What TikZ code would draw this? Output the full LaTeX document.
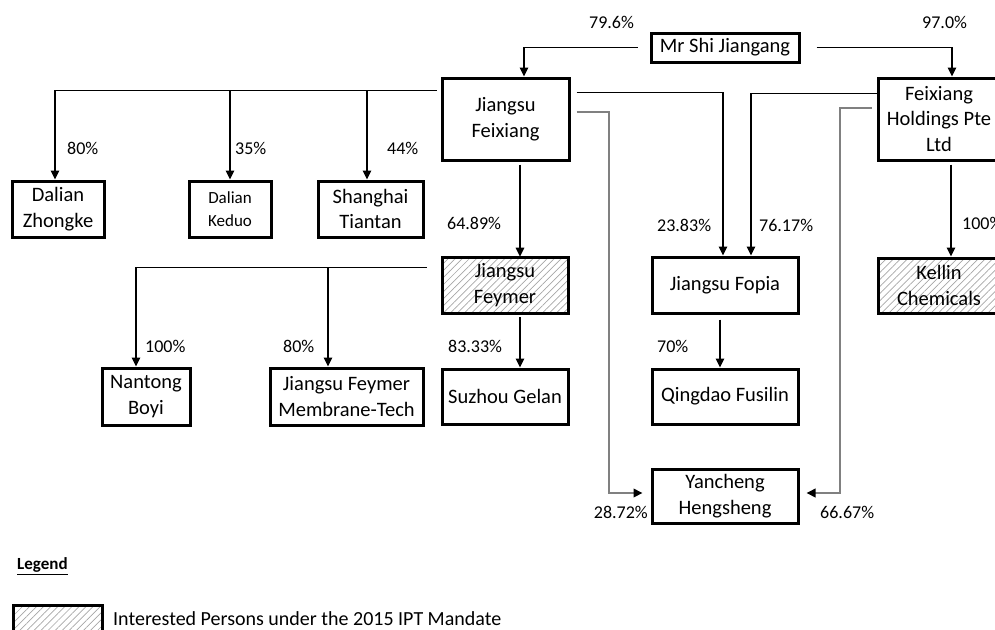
\documentclass[tikz,border=0pt]{standalone}
\usepackage{fontspec}
\setmainfont{Carlito}
\usetikzlibrary{arrows.meta,patterns.meta}
\definecolor{greyline}{HTML}{808080}
\definecolor{hatchgrey}{HTML}{A6A6A6}
\begin{document}
\begin{tikzpicture}[x=1pt,y=-1pt,
  box/.style={draw=black,line width=3pt,fill=white,inner sep=0pt,align=center,
    font=\fontsize{20.5}{25.5}\selectfont},
  hatched/.style={pattern={Lines[angle=45,distance=5pt,line width=0.7pt]},pattern color=hatchgrey},
  conn/.style={draw=black,line width=1.4pt,-{Triangle[length=9pt,width=8.5pt]}},
  greyconn/.style={draw=greyline,line width=2pt,-{Triangle[length=9pt,width=8.5pt,fill=black,color=black]}},
  pct/.style={inner sep=0pt,font=\fontsize{18}{21}\selectfont},
  lbl/.style={inner sep=0pt,anchor=west}
]
\useasboundingbox (0,0) rectangle (995,629);

% boxes
\node[box,minimum width=148pt,minimum height=29pt] (shi) at (725,47.5) {Mr Shi Jiangang};
\node[box,minimum width=127pt,minimum height=82pt] (jf) at (505.5,119) {Jiangsu\\Feixiang};
\node[box,minimum width=122pt,minimum height=82pt] (fh) at (939,119) {Feixiang\\Holdings Pte\\Ltd};
\node[box,minimum width=92pt,minimum height=56pt] (dz) at (58,209) {Dalian\\Zhongke};
\node[box,minimum width=82pt,minimum height=56pt,font=\fontsize{17}{23}\selectfont] (dk) at (230,209) {Dalian\\Keduo};
\node[box,minimum width=105pt,minimum height=56pt] (st) at (370.5,209) {Shanghai\\Tiantan};
\node[box,hatched,minimum width=126pt,minimum height=56pt] (fey) at (505,285) {Jiangsu\\Feymer};
\node[box,minimum width=146pt,minimum height=56pt] (fop) at (725,285) {Jiangsu Fopia};
\node[box,hatched,minimum width=122pt,minimum height=55pt] (kel) at (939,285.5) {Kellin\\Chemicals};
\node[box,minimum width=88pt,minimum height=57pt] (nb) at (146,396.5) {Nantong\\Boyi};
\node[box,minimum width=153pt,minimum height=57pt] (mt) at (346.5,396.5) {Jiangsu Feymer\\Membrane-Tech};
\node[box,minimum width=126pt,minimum height=55pt] (sg) at (505,396.5) {Suzhou Gelan};
\node[box,minimum width=146pt,minimum height=55pt] (qf) at (725,396.5) {Qingdao Fusilin};
\node[box,minimum width=146pt,minimum height=54pt] (yh) at (725,496) {Yancheng\\Hengsheng};

% connectors from Mr Shi
\draw[conn] ([xshift=-12pt]shi.west) -| ([xshift=18.5pt]jf.north);
\draw[conn] ([xshift=16pt]shi.east) -| ([xshift=13pt]fh.north);

% Jiangsu Feixiang to left subsidiaries
\coordinate (jfl) at ([xshift=-4pt,yshift=-14pt]jf.north west);
\coordinate (dzt) at ([xshift=-3pt]dz.north);
\coordinate (stt) at ([xshift=-3.5pt]st.north);
\draw[conn] (jfl) -| (dzt);
\draw[conn] (jfl -| dk.north) -- (dk.north);
\draw[conn] (jfl -| stt) -- (stt);

% Jiangsu Feixiang to Feymer
\draw[conn] ([xshift=14.5pt,yshift=-3pt]jf.south) -- ([xshift=15pt]fey.north);

% to Jiangsu Fopia
\draw[conn] ([xshift=6pt,yshift=-16pt]jf.north east) -| ([xshift=-2pt]fop.north);
\draw[conn] ([yshift=-17pt]fh.north west) -| ([xshift=26pt]fop.north);

% to Yancheng (grey)
\draw[greyconn] ([xshift=6pt,yshift=-35pt]jf.north east) -| ([xshift=-42pt,yshift=3pt]yh.west) -- ([xshift=-8pt,yshift=3pt]yh.west);
\draw[greyconn] ([xshift=-5pt,yshift=-31pt]fh.north west) -| ([xshift=40pt,yshift=3pt]yh.east) -- ([xshift=7pt,yshift=3pt]yh.east);

% Feixiang Holdings to Kellin
\draw[conn] ([xshift=12pt,yshift=-3pt]fh.south) -- ([xshift=12pt]kel.north);

% Feymer subsidiaries
\coordinate (feyl) at ([xshift=-15pt,yshift=-11pt]fey.north west);
\coordinate (nbt) at ([xshift=-10pt]nb.north);
\coordinate (mtt) at ([xshift=-18.5pt]mt.north);
\draw[conn] (feyl) -| (nbt);
\draw[conn] (feyl -| mtt) -- (mtt);
\draw[conn] ([xshift=15pt,yshift=-4pt]fey.south) -- ([xshift=15pt]sg.north);

% Fopia to Qingdao
\draw[conn] ([xshift=-5pt,yshift=-5pt]fop.south) -- ([xshift=-5pt]qf.north);

% percentage labels
\node[pct,lbl] (p796) at (589,22) {79.6\%};
\node[pct,lbl] (p970) at (922,22) {97.0\%};
\node[pct,lbl] (p80a) at (67,148) {80\%};
\node[pct,lbl] (p35) at (235,148) {35\%};
\node[pct,lbl] (p44) at (387,148) {44\%};
\node[pct,lbl] (p6489) at (447,223) {64.89\%};
\node[pct,lbl] (p2383) at (657,225) {23.83\%};
\node[pct,lbl] (p7617) at (759,225) {76.17\%};
\node[pct,lbl] (p100a) at (962,223) {100\%};
\node[pct,lbl] (p100b) at (145,346) {100\%};
\node[pct,lbl] (p80b) at (283,346) {80\%};
\node[pct,lbl] (p8333) at (448,346) {83.33\%};
\node[pct,lbl] (p70) at (657,346) {70\%};
\node[pct,anchor=east] (p2872) at (648,512) {28.72\%};
\node[pct,lbl] (p6667) at (820,512) {66.67\%};

% legend
\node[lbl,inner sep=0pt,font=\fontsize{17}{20}\selectfont\bfseries] (leg) at (17,566) {\underline{Legend}};
\node[box,hatched,minimum width=89pt,minimum height=36pt,anchor=north west] (legbox) at (12,604) {};
\node[lbl,font=\fontsize{20}{24}\selectfont] (legtxt) at (113,619) {Interested Persons under the 2015 IPT Mandate};
\end{tikzpicture}
\end{document}
